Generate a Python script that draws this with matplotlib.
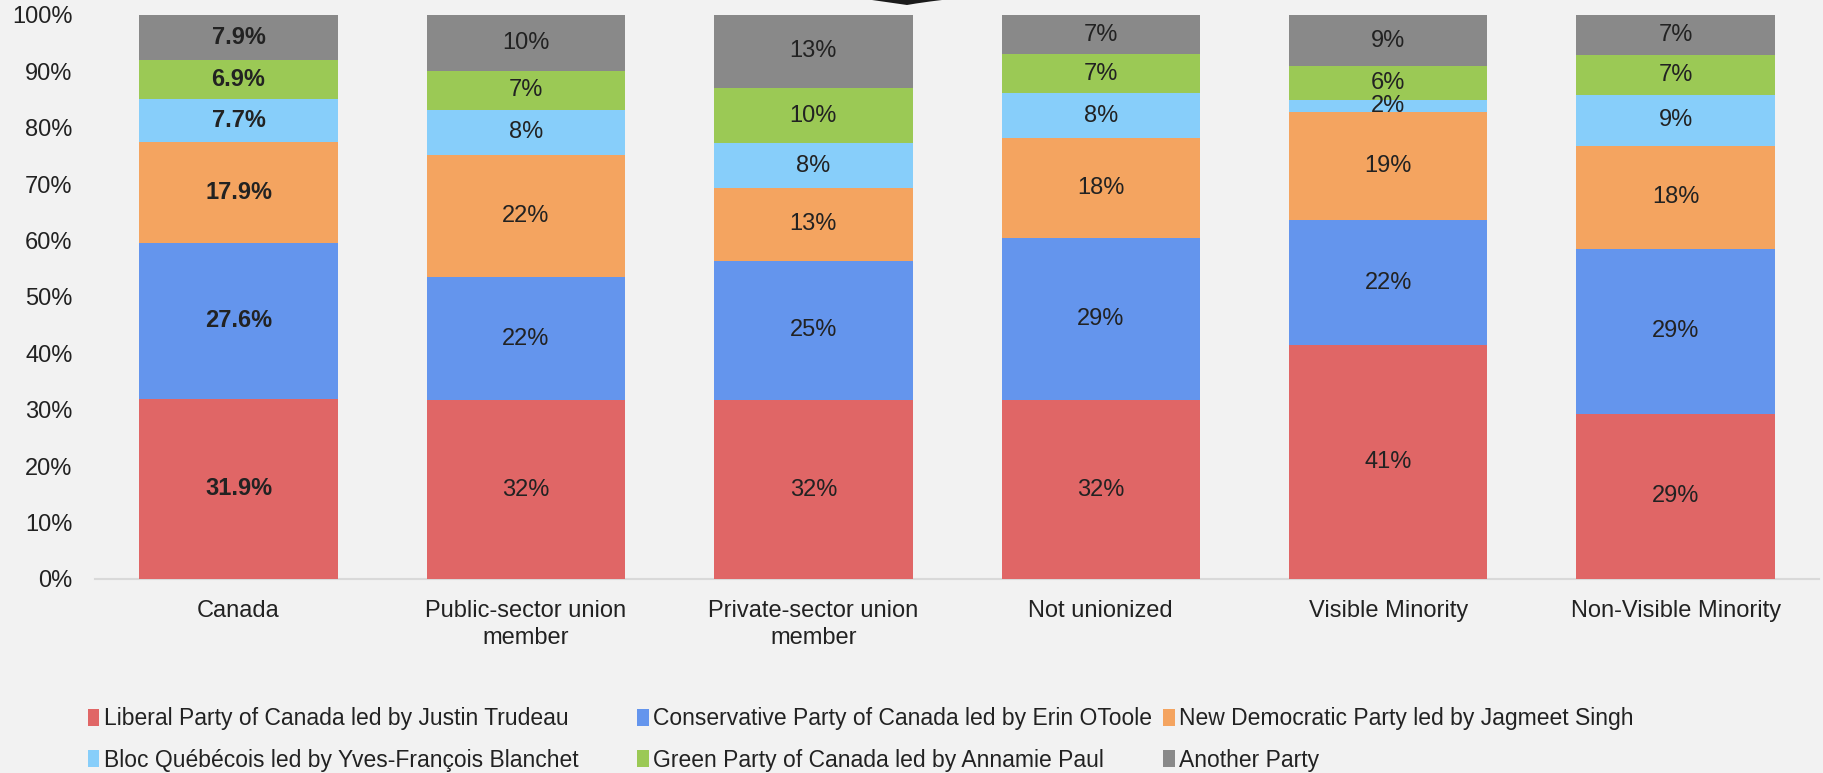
import numpy as np
import matplotlib
matplotlib.use('Agg')
import matplotlib.pyplot as plt
from matplotlib.patches import Polygon, Patch

plt.rcParams['font.family'] = ['Liberation Sans', 'DejaVu Sans']

# vote intention by group, percent
categories = ['Canada', 'Public-sector union\nmember', 'Private-sector union\nmember',
              'Not unionized', 'Visible Minority', 'Non-Visible Minority']
liberal = [31.9, 32, 32, 32, 41, 29]
conservative = [27.6, 22, 25, 29, 22, 29]
ndp = [17.9, 22, 13, 18, 19, 18]
bloc = [7.7, 8, 8, 8, 2, 9]
green = [6.9, 7, 10, 7, 6, 7]
other = [7.9, 10, 13, 7, 9, 7]

parties = ['Liberal Party of Canada led by Justin Trudeau',
           'Conservative Party of Canada led by Erin OToole',
           'New Democratic Party led by Jagmeet Singh',
           'Bloc Québécois led by Yves-François Blanchet',
           'Green Party of Canada led by Annamie Paul',
           'Another Party']
colors = ['#E06666', '#6495ED', '#F4A460', '#87CEFA', '#9BC955', '#898989']

series = np.array([liberal, conservative, ndp, bloc, green, other], dtype=float)
# 100% stacked: every column scaled to its own total
shares = series / series.sum(axis=0) * 100

bg = '#F2F2F2'
txt = '#222222'
fs = 17

fig = plt.figure(figsize=(18.23, 7.73), dpi=100, facecolor=bg)
ax = fig.add_axes([0.052, 0.251, 0.946, 0.7296])
ax.set_facecolor(bg)

x = np.arange(len(categories))
bottom = np.zeros(len(categories))
for i in range(len(parties)):
    ax.bar(x, shares[i], 0.69, bottom=bottom, color=colors[i], label=parties[i], zorder=2)
    for j in range(len(categories)):
        if j == 0:
            s = '%.1f%%' % series[i][j]
            w = 'bold'
        else:
            s = '%.0f%%' % series[i][j]
            w = 'normal'
        ax.text(x[j], bottom[j] + shares[i][j] / 2, s, ha='center', va='center',
                fontsize=fs, color=txt, fontweight=w, zorder=3)
    bottom = bottom + shares[i]

ax.set_xlim(-0.5, len(categories) - 0.5)
ax.set_ylim(0, 100)
ax.set_yticks(np.arange(0, 101, 10))
ax.set_yticklabels(['%d%%' % v for v in range(0, 101, 10)])
ax.set_xticks(x)
ax.set_xticklabels(categories, linespacing=1.3)
ax.tick_params(axis='both', length=0, labelsize=fs, colors=txt)
ax.tick_params(axis='y', pad=16)
ax.tick_params(axis='x', pad=15)
for side in ['top', 'right', 'left']:
    ax.spines[side].set_visible(False)
ax.spines['bottom'].set_color('#D9D9D9')
ax.spines['bottom'].set_linewidth(1.5)
ax.spines['bottom'].set_zorder(1)

# legend in three columns, two parties each
cols = [[0, 3], [1, 4], [2, 5]]
col_x = [0.043, 0.3445, 0.6331]
for c in range(3):
    handles = [Patch(facecolor=colors[k], label=parties[k]) for k in cols[c]]
    fig.legend(handles=handles, loc='lower left', bbox_to_anchor=(col_x[c], -0.010),
               frameon=False, fontsize=16.5, handlelength=0.5, handleheight=0.8,
               handletextpad=0.2, labelspacing=0.8, labelcolor=txt,
               borderaxespad=0.0)

# dark tip of the shape above the chart
tip = np.array([[872, 0], [886, 2], [900, 4], [907, 5], [916, 3.5], [930, 1.5], [942, 0]])
tip_fig = np.column_stack([tip[:, 0] / 1823.0, 1 - tip[:, 1] / 773.0])
fig.patches.append(Polygon(tip_fig, closed=True, transform=fig.transFigure,
                           facecolor='#1A1A1A', edgecolor='none'))

fig.savefig('out.png', dpi=100, facecolor=bg)
